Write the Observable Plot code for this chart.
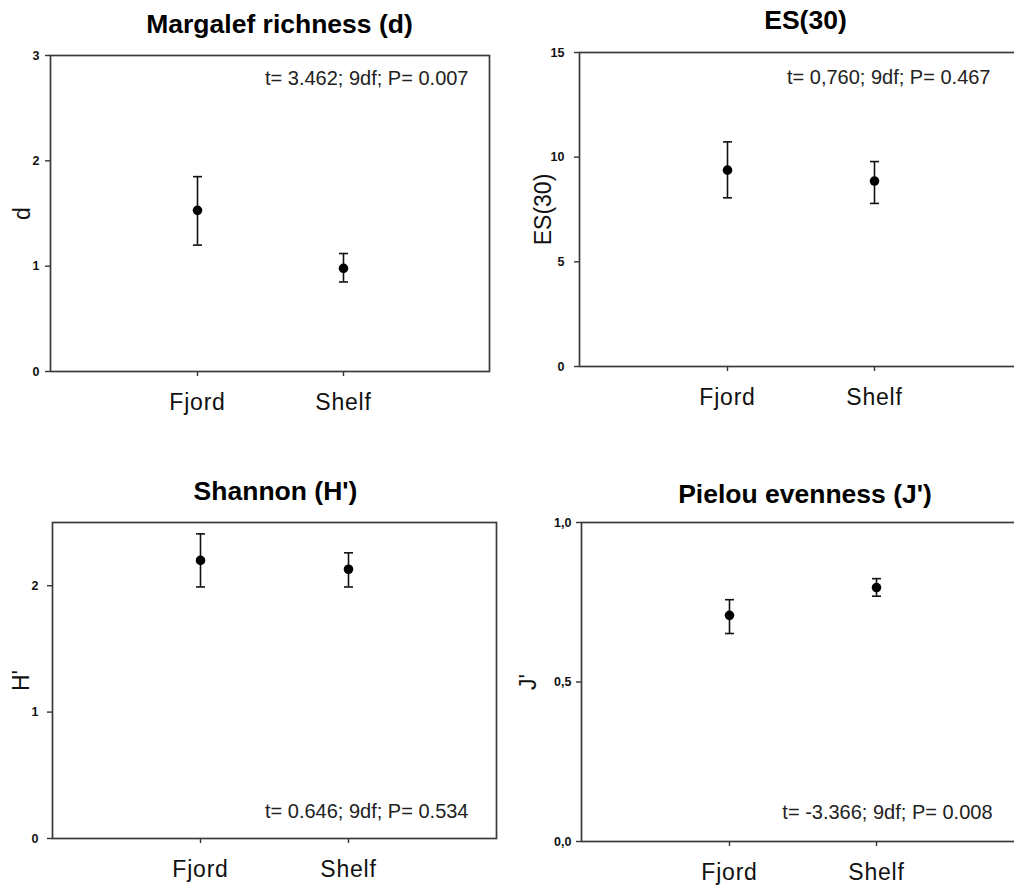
<!DOCTYPE html>
<html>
<head>
<meta charset="utf-8">
<script src="https://cdn.jsdelivr.net/npm/d3@7"></script>
<script src="https://cdn.jsdelivr.net/npm/@observablehq/plot@0.6"></script>
<style>
  html, body { margin: 0; padding: 0; background: white; }
  #wrap { position: relative; width: 1014px; height: 885px; overflow: hidden; background: white; }
  .panel { position: absolute; }
  .panel svg { max-width: none !important; }
  .panel g[aria-label="x-axis tick label"] text { letter-spacing: 0.8px; }
</style>
</head>
<body>
<div id="wrap"></div>
<script>
// ---- data ----
const sites = ["Fjord", "Shelf"];

const margalefMean = [1.53, 0.98];
const margalefLow  = [1.20, 0.85];
const margalefHigh = [1.85, 1.12];

const es30Mean = [9.38, 8.86];
const es30Low  = [8.06, 7.79];
const es30High = [10.73, 9.79];

const shannonMean = [2.20, 2.13];
const shannonLow  = [1.99, 1.99];
const shannonHigh = [2.41, 2.26];

const pielouMean = [0.709, 0.796];
const pielouLow  = [0.652, 0.769];
const pielouHigh = [0.758, 0.824];

const titles = ["Margalef richness (d)", "ES(30)", "Shannon (H')", "Pielou evenness (J')"];
const yLabels = ["d", "ES(30)", "H'", "J'"];
const annotations = [
  "t= 3.462; 9df; P= 0.007",
  "t= 0,760; 9df; P= 0.467",
  "t= 0.646; 9df; P= 0.534",
  "t= -3.366; 9df; P= 0.008"
];
const yDomains = [[0, 3], [0, 15], [0, 2.5], [0, 1]];
const yTicks = [[0, 1, 2, 3], [0, 5, 10, 15], [0, 1, 2], [0, 0.5, 1]];
const commaFmt = d => d3.format(".1f")(d).replace(".", ",");

// ---- layout (frame positions in page px) ----
const layouts = [
  {L: 50, T: 55, R: 489, B: 371, tickPad: 6, titleDx: 9.5, titleDy: -31, yLabDx: -28, annAnchor: "top-right", annDx: -21, annDy: 23, fmt: d => d},
  {L: 579, T: 52, R: 1021, B: 366, tickPad: 10, titleDx: 5, titleDy: -32, yLabDx: -36, annAnchor: "top-right", annDx: -31, annDy: 25, fmt: d => d},
  {L: 52, T: 522, R: 496, B: 838, tickPad: 9, titleDx: 1, titleDy: -31, yLabDx: -31, annAnchor: "bottom-right", annDx: -28, annDy: -27, fmt: d => d},
  {L: 581, T: 522, R: 1023, B: 841, tickPad: 5, titleDx: 2.5, titleDy: -28, yLabDx: -53, annAnchor: "bottom-right", annDx: -31, annDy: -29, fmt: commaFmt}
];

const series = [
  [margalefMean, margalefLow, margalefHigh],
  [es30Mean, es30Low, es30High],
  [shannonMean, shannonLow, shannonHigh],
  [pielouMean, pielouLow, pielouHigh]
];

// horizontal cap symbol for error bars
const capSymbol = {
  draw(context) {
    context.moveTo(-4.5, 0);
    context.lineTo(4.5, 0);
  }
};

const font = "'Liberation Sans', Arial, Helvetica, sans-serif";
const wrap = document.getElementById("wrap");

series.forEach(([mean, low, high], k) => {
  const lay = layouts[k];
  const rows = sites.map((s, i) => ({site: s, mean: mean[i], low: low[i], high: high[i]}));
  const mL = 75, mT = 60, mR = 5, mB = 50;
  const W = (lay.R - lay.L) + mL + mR;
  const H = (lay.B - lay.T) + mT + mB;
  const plot = Plot.plot({
    width: W,
    height: H,
    marginLeft: mL, marginTop: mT, marginRight: mR, marginBottom: mB,
    style: {fontFamily: font, background: "white", overflow: "visible", color: "#111", maxWidth: "none"},
    x: {type: "point", domain: sites, padding: 1, label: null},
    y: {domain: yDomains[k], label: null},
    marks: [
      Plot.axisY({ticks: yTicks[k], tickFormat: lay.fmt, tickSize: 5, tickPadding: lay.tickPad,
                  fontSize: 12.5, fontWeight: "bold", stroke: "#333", strokeWidth: 1.4, label: null}),
      Plot.axisX({tickSize: 5, tickPadding: 17, fontSize: 23, stroke: "#333", strokeWidth: 1.4, label: null}),
      Plot.frame({stroke: "#3a3a3a", strokeWidth: 1.7}),
      Plot.ruleX(rows, {x: "site", y1: "low", y2: "high", stroke: "#111", strokeWidth: 1.6}),
      Plot.dot(rows, {x: "site", y: "low", symbol: capSymbol, r: 4.5, stroke: "#111", strokeWidth: 1.6, fill: "none"}),
      Plot.dot(rows, {x: "site", y: "high", symbol: capSymbol, r: 4.5, stroke: "#111", strokeWidth: 1.6, fill: "none"}),
      Plot.dot(rows, {x: "site", y: "mean", r: 4.8, fill: "#000", stroke: "none"}),
      Plot.text([titles[k]], {text: d => d, frameAnchor: "top", dx: lay.titleDx, dy: lay.titleDy,
                  fontSize: 26.5, fontWeight: "bold", fill: "#000", lineAnchor: "middle"}),
      Plot.text([yLabels[k]], {text: d => d, frameAnchor: "left", dx: lay.yLabDx, rotate: -90,
                  textAnchor: "middle", lineAnchor: "middle", fontSize: 23, fill: "#111"}),
      Plot.text([annotations[k]], {text: d => d, frameAnchor: lay.annAnchor, dx: lay.annDx, dy: lay.annDy,
                  textAnchor: "end", lineAnchor: "middle", fontSize: 20, fill: "#222"})
    ]
  });
  const div = document.createElement("div");
  div.className = "panel";
  div.style.left = (lay.L - mL) + "px";
  div.style.top = (lay.T - mT) + "px";
  div.style.width = W + "px";
  div.style.height = H + "px";
  div.appendChild(plot);
  wrap.appendChild(div);
});
</script>
</body>
</html>
